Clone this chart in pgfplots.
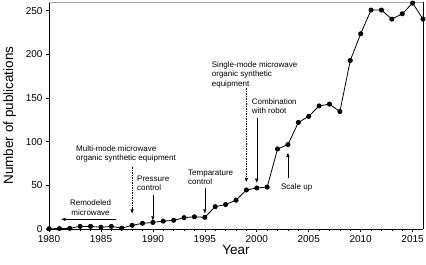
\documentclass[border=0pt]{standalone}
\usepackage{pgfplots}
\pgfplotsset{compat=1.18}
\usepackage{fontspec}
\setmainfont{Liberation Sans}
\usetikzlibrary{arrows.meta}
\begin{document}
\begin{tikzpicture}
\useasboundingbox (-49pt,-36pt) rectangle (377pt,229pt);
\begin{axis}[
  scale only axis, width=374pt, height=227pt,
  xmin=1980, xmax=2016, ymin=0, ymax=260,
  axis x line*=bottom, axis y line*=left,
  axis line style={-, line width=0.8pt, black},
  xtick={1980,1985,...,2015}, ytick={0,50,...,250},
  minor x tick num=4,
  tick align=outside, major tick length=3pt, minor tick length=2pt,
  tick style={black, line width=0.6pt},
  xticklabel style={/pgf/number format/1000 sep={}},
  /pgf/number format/assume math mode=true,
  ticklabel style={font=\fontsize{10}{12}\selectfont},
  xlabel={Year}, ylabel={Number of publications},
  label style={font=\fontsize{13.5}{16}\selectfont},
  xlabel style={yshift=4pt},
  ylabel style={yshift=3pt},
  clip=false,
]
\addplot[black, line width=0.8pt, mark=*, mark size=2.1pt] coordinates {
(1980,0.3) (1981,0.5) (1982,0.8) (1983,3) (1984,3) (1985,2) (1986,3) (1987,1)
(1988,4.2) (1989,6.5) (1990,7.5) (1991,9) (1992,10) (1993,13) (1994,14) (1995,13.4)
(1996,25.6) (1997,28) (1998,33) (1999,44.7) (2000,47) (2001,48) (2002,91.7) (2003,96.7)
(2004,122) (2005,129) (2006,141) (2007,143) (2008,134.5) (2009,193) (2010,223.6)
(2011,250.8) (2012,250.8) (2013,240.4) (2014,246.5) (2015,258.8) (2016,240.4)
};
\tikzset{ann/.style={font=\fontsize{8}{9.5}\selectfont, inner sep=0pt, align=left},
  arr/.style={line width=0.5pt, -{Triangle[length=4pt,width=3.2pt]}}}
\node[ann, align=center] at (axis cs:1984,24.7) {Remodeled\\microwave};
\draw[arr] (axis cs:1986.45,11.1) -- (axis cs:1981.2,11.1);
\node[ann, anchor=west] at (axis cs:1982.6,86) {Multi-mode microwave\\organic synthetic equipment};
\draw[arr, dash pattern=on 1.5pt off 1pt] (axis cs:1988,71) -- (axis cs:1988,18);
\node[ann, anchor=west] at (axis cs:1988.47,52.2) {Pressure\\control};
\draw[arr] (axis cs:1990,39) -- (axis cs:1990,10);
\node[ann, anchor=west] at (axis cs:1993.38,59) {Temparature\\control};
\draw[arr] (axis cs:1995,47) -- (axis cs:1995,18);
\node[ann, anchor=west] at (axis cs:1995.66,177) {Single-mode microwave\\organic synthetic\\equipment};
\draw[arr, dash pattern=on 1.5pt off 1pt] (axis cs:1999,161) -- (axis cs:1999,54);
\node[ann, anchor=west] at (axis cs:1999.5,140.5) {Combination\\with robot};
\draw[arr] (axis cs:2000,127) -- (axis cs:2000,53);
\node[ann, align=center] at (axis cs:2003.84,47.4) {Scale up};
\draw[arr] (axis cs:2003,58) -- (axis cs:2003,87);
\draw[gray!70, line width=0.8pt] (rel axis cs:0,1) -- (rel axis cs:1,1);
\draw[black, line width=0.6pt] (rel axis cs:1,0) -- (rel axis cs:1,1);
\end{axis}
\end{tikzpicture}
\end{document}
